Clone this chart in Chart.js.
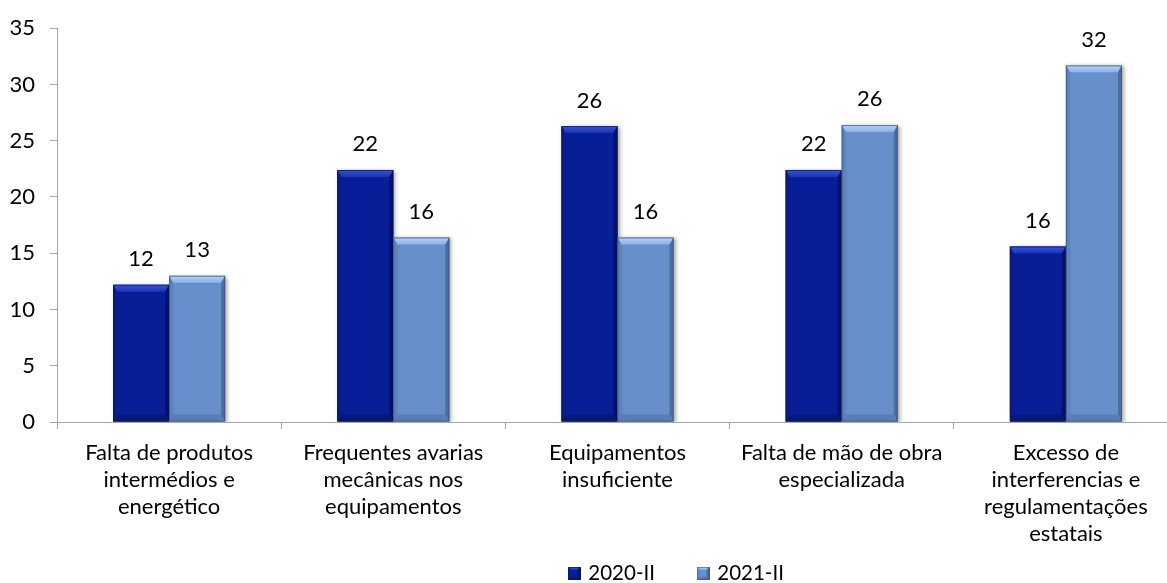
<!DOCTYPE html>
<html lang="pt">
<head>
<meta charset="utf-8">
<title>Principais constrangimentos</title>
<script src="https://cdn.jsdelivr.net/npm/chart.js@4/dist/chart.umd.min.js"></script>
<style>
  html, body { margin: 0; padding: 0; background: #ffffff; overflow: hidden; }
  #wrap { width: 1167px; height: 583px; overflow: hidden; position: relative; }
  #chart { display: block; }
</style>
</head>
<body>
<div id="wrap"><canvas id="chart" width="1180" height="583"></canvas></div>
<script>
// Categories (multi-line axis labels)
const categories = [
  ["Falta de produtos", "intermédios e", "energético"],
  ["Frequentes avarias", "mecânicas nos", "equipamentos"],
  ["Equipamentos", "insuficiente"],
  ["Falta de mão de obra", "especializada"],
  ["Excesso de", "interferencias e", "regulamentações", "estatais"]
];

// Series
const seriesNames = ["2020-II", "2021-II"];
const values2020 = [12.2, 22.4, 26.3, 22.4, 15.6];
const values2021 = [13.0, 16.4, 16.4, 26.4, 31.7];

// Y axis ticks
const yTicks = [0, 5, 10, 15, 20, 25, 30, 35];

// Layout
const CANVAS_H = 583;
const PLOT_TOP = 25;
const PLOT_BOTTOM = 422;
const Y_AXIS_W = 57;
const FONT = 'Lato, "DejaVu Sans", sans-serif';
const FONT_SIZE = 22;
const LEGEND_FONT_SIZE = 20.5;

// Bevel palettes for each series
const palettes = [
  { main: '#071E97', topA: '#3556D6', topB: '#1A34B4', bottom: '#06177A', right: '#04126E', left: '#0A1C86', edge: 'rgba(10,20,80,0.7)' },
  { main: '#6690CC', topA: '#B2D0F4', topB: '#8CB3E6', bottom: '#5A7DB2', right: '#4E6C9E', left: '#5B84BE', edge: 'rgba(60,80,120,0.7)' }
];

function drawBevel(ctx, L, R, T, B, pal, b, s) {
  const h = B - T;
  b = Math.min(b, h / 2);
  // top face
  const g = ctx.createLinearGradient(0, T, 0, T + b);
  g.addColorStop(0, pal.topA);
  g.addColorStop(1, pal.topB);
  ctx.fillStyle = g;
  ctx.beginPath();
  ctx.moveTo(L, T); ctx.lineTo(R, T); ctx.lineTo(R - s, T + b); ctx.lineTo(L + s, T + b);
  ctx.closePath(); ctx.fill();
  // bottom face
  ctx.fillStyle = pal.bottom;
  ctx.beginPath();
  ctx.moveTo(L, B); ctx.lineTo(R, B); ctx.lineTo(R - s, B - b); ctx.lineTo(L + s, B - b);
  ctx.closePath(); ctx.fill();
  // right face
  ctx.fillStyle = pal.right;
  ctx.beginPath();
  ctx.moveTo(R, T); ctx.lineTo(R, B); ctx.lineTo(R - s, B - b); ctx.lineTo(R - s, T + b);
  ctx.closePath(); ctx.fill();
  // left face
  ctx.fillStyle = pal.left;
  ctx.beginPath();
  ctx.moveTo(L, T); ctx.lineTo(L, B); ctx.lineTo(L + s, B - b); ctx.lineTo(L + s, T + b);
  ctx.closePath(); ctx.fill();
  // outline
  ctx.strokeStyle = pal.edge;
  ctx.lineWidth = 1;
  ctx.strokeRect(L + 0.5, T + 0.5, R - L - 1, B - T - 1);
}

// Small bevelled squares used as legend markers
function makeMarker(pal) {
  const c = document.createElement('canvas');
  c.width = 13; c.height = 13;
  const cx = c.getContext('2d');
  cx.fillStyle = pal.main;
  cx.fillRect(0, 0, 13, 13);
  drawBevel(cx, 0, 13, 0, 13, pal, 3, 3);
  return c;
}
const markers = palettes.map(makeMarker);

// Bevel, shadow and value labels for the bars
const barStyle = {
  id: 'barStyle',
  beforeDatasetsDraw(chart) {
    const ctx = chart.ctx;
    ctx.save();
    ctx.shadowColor = 'rgba(0,0,0,0.35)';
    ctx.shadowBlur = 4;
    ctx.shadowOffsetX = 2;
    ctx.shadowOffsetY = 1;
  },
  afterDatasetsDraw(chart) {
    const ctx = chart.ctx;
    ctx.restore();
    chart.data.datasets.forEach((ds, di) => {
      const meta = chart.getDatasetMeta(di);
      const pal = palettes[di];
      meta.data.forEach((el, i) => {
        const p = el.getProps(['x', 'y', 'base', 'width'], true);
        const L = p.x - p.width / 2, R = p.x + p.width / 2;
        ctx.save();
        drawBevel(ctx, L, R, p.y, p.base, pal, 7, 4);
        ctx.restore();
        // value label
        ctx.save();
        ctx.font = FONT_SIZE + 'px ' + FONT;
        ctx.fillStyle = '#000000';
        ctx.textAlign = 'center';
        ctx.textBaseline = 'alphabetic';
        ctx.fillText(String(Math.round(ds.data[i])), p.x, p.y - 18.5);
        ctx.restore();
      });
    });
  }
};

// Places the legend row under the plot and lets the category labels use the space above it
const legendPlacement = {
  id: 'legendPlacement',
  afterLayout(chart, args, opts) {
    const lg = chart.legend;
    if (!lg) return;
    const dx = opts.centerX - (lg.left + lg.right) / 2;
    lg.left += dx; lg.right += dx;
    const dy = opts.top - lg.top;
    lg.top += dy; lg.bottom += dy;
    const xs = chart.scales.x;
    xs.bottom = chart.height;
    xs.height = xs.bottom - xs.top;
  }
};

Chart.defaults.font.family = FONT;
Chart.defaults.font.size = FONT_SIZE;
Chart.defaults.color = '#000000';

new Chart(document.getElementById('chart'), {
  type: 'bar',
  data: {
    labels: categories,
    datasets: [
      { label: seriesNames[0], data: values2020, backgroundColor: palettes[0].main, borderWidth: 0 },
      { label: seriesNames[1], data: values2021, backgroundColor: palettes[1].main, borderWidth: 0 }
    ]
  },
  options: {
    responsive: false,
    devicePixelRatio: 1,
    animation: false,
    layout: { padding: { top: PLOT_TOP, right: 2, left: 0, bottom: 0 } },
    datasets: { bar: { categoryPercentage: 0.5, barPercentage: 1.0 } },
    scales: {
      x: {
        offset: true,
        grid: { display: true, drawOnChartArea: false, offset: true, tickLength: 7, color: '#A6A6A6', lineWidth: 1 },
        border: { display: true, color: '#A6A6A6', width: 1 },
        ticks: { maxRotation: 0, autoSkip: false, padding: 11, font: { size: FONT_SIZE, lineHeight: 26.7 / FONT_SIZE }, color: '#000000' },
        afterFit(scale) {
          const lg = scale.chart.legend;
          const lh = lg ? lg.height : 0;
          scale.height = CANVAS_H - lh - PLOT_BOTTOM;
        }
      },
      y: {
        min: 0,
        max: 35,
        afterBuildTicks(scale) { scale.ticks = yTicks.map(v => ({ value: v })); },
        grid: { display: true, drawOnChartArea: false, tickLength: 7, color: '#A6A6A6', lineWidth: 1 },
        border: { display: true, color: '#A6A6A6', width: 1 },
        ticks: { padding: 15, font: { size: FONT_SIZE }, color: '#000000' },
        afterFit(scale) { scale.width = Y_AXIS_W; }
      }
    },
    plugins: {
      tooltip: { enabled: false },
      legend: {
        display: true,
        position: 'bottom',
        labels: {
          usePointStyle: true,
          pointStyleWidth: 8,
          generateLabels(chart) {
            return chart.data.datasets.map((ds, i) => ({
              text: ds.label,
              pointStyle: markers[i],
              fillStyle: palettes[i].main,
              strokeStyle: palettes[i].main,
              lineWidth: 0,
              hidden: false,
              datasetIndex: i,
              fontColor: '#000000'
            }));
          },
          boxWidth: 13,
          boxHeight: 13,
          padding: 44,
          font: { size: LEGEND_FONT_SIZE },
          color: '#000000'
        }
      },
      legendPlacement: { centerX: 677, top: 519 }
    }
  },
  plugins: [barStyle, legendPlacement]
});
</script>
</body>
</html>
